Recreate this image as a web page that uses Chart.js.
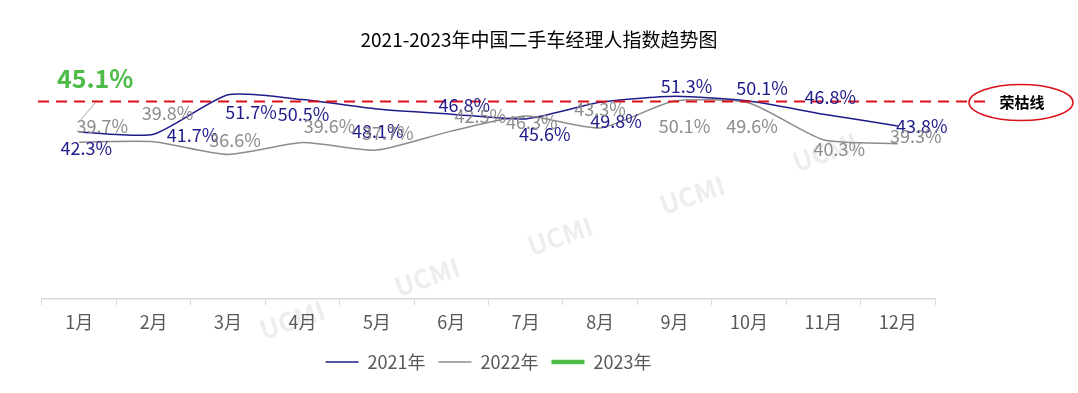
<!DOCTYPE html>
<html>
<head>
<meta charset="utf-8">
<script src="https://cdn.jsdelivr.net/npm/chart.js@4"></script>
<style>
  html, body { margin: 0; padding: 0; background: #fff; }
  #wrap { width: 1078px; height: 393px; }
</style>
</head>
<body>
<div id="wrap"><canvas id="chart" width="1078" height="393"></canvas></div>
<script>
// data
const months = ['1月', '2月', '3月', '4月', '5月', '6月', '7月', '8月', '9月', '10月', '11月', '12月'];
const idx2021 = [42.3, 41.7, 51.7, 50.5, 48.1, 46.8, 45.6, 49.8, 51.3, 50.1, 46.8, 43.8];
const idx2022 = [39.7, 39.8, 36.6, 39.6, 37.7, 42.5, 46.3, 43.3, 50.1, 49.6, 40.3, 39.3];
const idx2023 = [45.1];
const boomLine = 50;
const boomLabel = '荣枯线';
const chartTitle = '2021-2023年中国二手车经理人指数趋势图';

const NAVY = '#1f1c8a';
const GREY = '#8c8c8c';
const GREEN = '#4cbb47';
const RED = '#dc1019';
const FONT = '"Noto Sans CJK SC", "Noto Sans", sans-serif';

// label offsets (px from the point), placed by hand like in the original
const labelOffsets = [
    [[7, 16], [39, 1], [23, 17], [1, 15], [1, 22], [13, -9], [19, 15], [16, 19], [12, -10], [13, -13], [7, -17], [24, 0]],
    [[23, -16], [14, -29], [7, -14], [27, -16], [11, -17], [29, -15], [6, 6], [0, -19], [10, 25], [3, 23], [16, 9], [18, -8]],
    [[16, -42]]
];

const extras = {
    id: 'extras',
    beforeDatasetsDraw(chart) {
        const ctx = chart.ctx;
        // faint watermark
        ctx.save();
        ctx.fillStyle = 'rgba(0,0,0,0.07)';
        ctx.font = 'bold 26px ' + FONT;
        ctx.textAlign = 'center';
        ctx.textBaseline = 'middle';
        [[292, 320], [427, 277], [560, 236], [692, 195], [825, 152]].forEach(([x, y]) => {
            ctx.save();
            ctx.translate(x, y);
            ctx.rotate(-0.33);
            ctx.fillText('UCMI', 0, 0);
            ctx.restore();
        });
        ctx.restore();
    },
    afterDatasetsDraw(chart) {
        const ctx = chart.ctx;
        const area = chart.chartArea;
        const y = chart.scales.y.getPixelForValue(boomLine);

        // title
        ctx.save();
        ctx.fillStyle = '#000';
        ctx.font = '19px ' + FONT;
        ctx.textAlign = 'center';
        ctx.textBaseline = 'middle';
        ctx.fillText(chartTitle, chart.width / 2, 40);

        // 荣枯线
        ctx.strokeStyle = RED;
        ctx.lineWidth = 1.8;
        ctx.setLineDash([11, 7]);
        ctx.beginPath();
        ctx.moveTo(area.left - 4, y);
        ctx.lineTo(area.right + 55, y);
        ctx.stroke();
        ctx.setLineDash([]);
        ctx.lineWidth = 1.5;
        ctx.beginPath();
        ctx.ellipse(area.right + 86, y + 1, 52, 18, 0, 0, Math.PI * 2);
        ctx.stroke();
        ctx.fillStyle = '#000';
        ctx.font = 'bold 15px ' + FONT;
        ctx.fillText(boomLabel, area.right + 87, y + 1);

        // data labels
        ctx.font = '18px ' + FONT;
        [0, 1].forEach(di => {
            const meta = chart.getDatasetMeta(di);
            ctx.fillStyle = di === 0 ? NAVY : GREY;
            meta.data.forEach((pt, i) => {
                const v = chart.data.datasets[di].data[i];
                const [dx, dy] = labelOffsets[di][i];
                ctx.fillText(v.toFixed(1) + '%', pt.x + dx, pt.y + dy);
            });
        });

        // 2023 label with leader line
        const p23 = chart.getDatasetMeta(2).data[0];
        const [dx, dy] = labelOffsets[2][0];
        ctx.strokeStyle = '#a6a6a6';
        ctx.lineWidth = 1;
        ctx.beginPath();
        ctx.moveTo(p23.x - 1, p23.y + 2);
        ctx.lineTo(p23.x + dx, p23.y + dy + 24);
        ctx.stroke();
        ctx.fillStyle = GREEN;
        ctx.font = 'bold 25px ' + FONT;
        ctx.fillText(idx2023[0].toFixed(1) + '%', p23.x + dx, p23.y + dy);
        ctx.restore();
    }
};

const ctx = document.getElementById('chart');
new Chart(ctx, {
    type: 'line',
    data: {
        labels: months,
        datasets: [
            {
                label: '2021年',
                data: idx2021,
                borderColor: NAVY,
                backgroundColor: NAVY,
                borderWidth: 1.5,
                pointRadius: 0,
                pointBorderWidth: 1.5,
                tension: 0.2
            },
            {
                label: '2022年',
                data: idx2022,
                borderColor: GREY,
                backgroundColor: GREY,
                borderWidth: 1.5,
                pointRadius: 0,
                pointBorderWidth: 1.5,
                tension: 0.2
            },
            {
                label: '2023年',
                data: idx2023,
                borderColor: GREEN,
                backgroundColor: GREEN,
                borderWidth: 4,
                pointRadius: 0,
                pointBorderWidth: 4.5,
                tension: 0.2
            }
        ]
    },
    options: {
        responsive: false,
        animation: false,
        layout: {
            padding: { left: 42, right: 143, top: 62, bottom: 12 }
        },
        plugins: {
            title: { display: false },
            tooltip: { enabled: false },
            legend: {
                display: true,
                position: 'bottom',
                labels: {
                    usePointStyle: true,
                    pointStyle: 'line',
                    pointStyleWidth: 33,
                    padding: 13,
                    color: '#595959',
                    font: { size: 18, family: FONT }
                }
            }
        },
        scales: {
            x: {
                offset: true,
                grid: {
                    offset: true,
                    drawOnChartArea: false,
                    drawTicks: true,
                    tickLength: 6,
                    color: '#d9d9d9'
                },
                border: { color: '#d9d9d9', width: 1.5 },
                ticks: {
                    color: '#595959',
                    padding: 6,
                    font: { size: 18, family: FONT }
                },
                afterFit(scale) { scale.height = 41; }
            },
            y: {
                display: false,
                min: 0,
                max: 60
            }
        }
    },
    plugins: [extras]
});
</script>
</body>
</html>
